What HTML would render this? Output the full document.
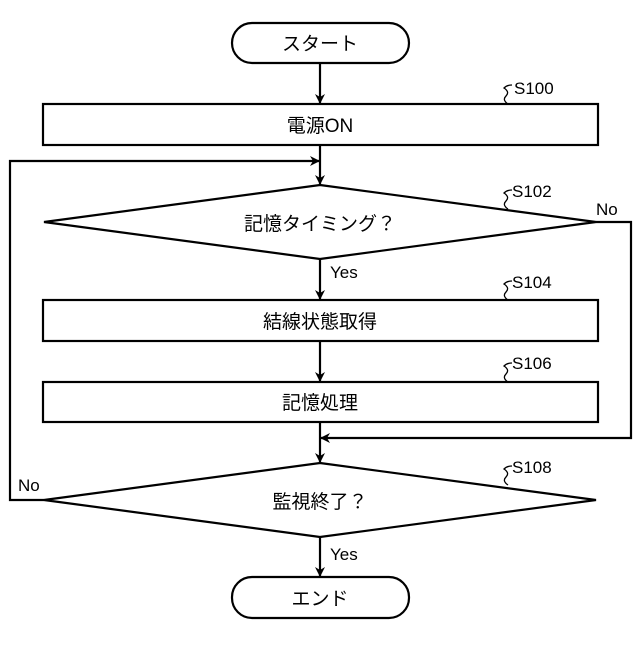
<!DOCTYPE html>
<html><head><meta charset="utf-8"><style>
html,body{margin:0;padding:0;background:#fff}
svg text{font-family:"Liberation Sans","Noto Sans CJK JP",sans-serif;fill:#000}
</style></head><body>
<svg width="640" height="640" viewBox="0 0 640 640" xmlns="http://www.w3.org/2000/svg">
<defs><marker id="a" markerWidth="10" markerHeight="10" refX="9" refY="5" orient="auto" markerUnits="userSpaceOnUse"><path d="M0,0 L10,5 L0,10 L3,5 Z" fill="#000"/></marker></defs>
<g fill="none" stroke="#000" stroke-width="2.2">
<rect x="232" y="23" width="177" height="40" rx="20"/>
<rect x="43" y="104" width="555" height="41"/>
<polygon points="320,185 596,222 320,259 44,222"/>
<rect x="43" y="300" width="555" height="41"/>
<rect x="43" y="382" width="555" height="40"/>
<polygon points="320,463 596,500 320,537 44,500"/>
<rect x="232" y="577" width="177" height="41" rx="20"/>
<line x1="320" y1="63" x2="320" y2="103" marker-end="url(#a)"/>
<line x1="320" y1="145" x2="320" y2="184" marker-end="url(#a)"/>
<line x1="320" y1="259" x2="320" y2="299" marker-end="url(#a)"/>
<line x1="320" y1="341" x2="320" y2="381" marker-end="url(#a)"/>
<line x1="320" y1="422" x2="320" y2="462" marker-end="url(#a)"/>
<line x1="320" y1="537" x2="320" y2="576" marker-end="url(#a)"/>
<polyline points="596,222 631,222 631,438 321,438" marker-end="url(#a)"/>
<polyline points="44,500 10,500 10,161 319,161" marker-end="url(#a)"/>
<g stroke-width="1.3">
<path d="M508,104 q-6,-4 -2,-8 q4,-4 -2,-8 q3,-3 8,-3"/>
<path d="M508,209 q-6,-4 -2,-8 q4,-4 -2,-8 q3,-3 8,-3"/>
<path d="M508,300 q-6,-4 -2,-8 q4,-4 -2,-8 q3,-3 8,-3"/>
<path d="M508,382 q-6,-4 -2,-8 q4,-4 -2,-8 q3,-3 8,-3"/>
<path d="M508,485 q-6,-4 -2,-8 q4,-4 -2,-8 q3,-3 8,-3"/>
</g>
</g>
<g font-size="19" text-anchor="middle">
<text x="320" y="50">スタート</text>
<text x="320" y="132">電源ON</text>
<text x="320" y="230">記憶タイミング？</text>
<text x="320" y="328">結線状態取得</text>
<text x="320" y="409">記憶処理</text>
<text x="320" y="508">監視終了？</text>
<text x="320" y="605">エンド</text>
</g>
<g font-size="17">
<text x="514" y="94">S100</text>
<text x="512" y="197">S102</text>
<text x="512" y="288">S104</text>
<text x="512" y="369">S106</text>
<text x="512" y="473">S108</text>
<text x="596" y="215">No</text>
<text x="18" y="491">No</text>
<text x="330" y="278">Yes</text>
<text x="330" y="560">Yes</text>
</g>
</svg>
</body></html>
